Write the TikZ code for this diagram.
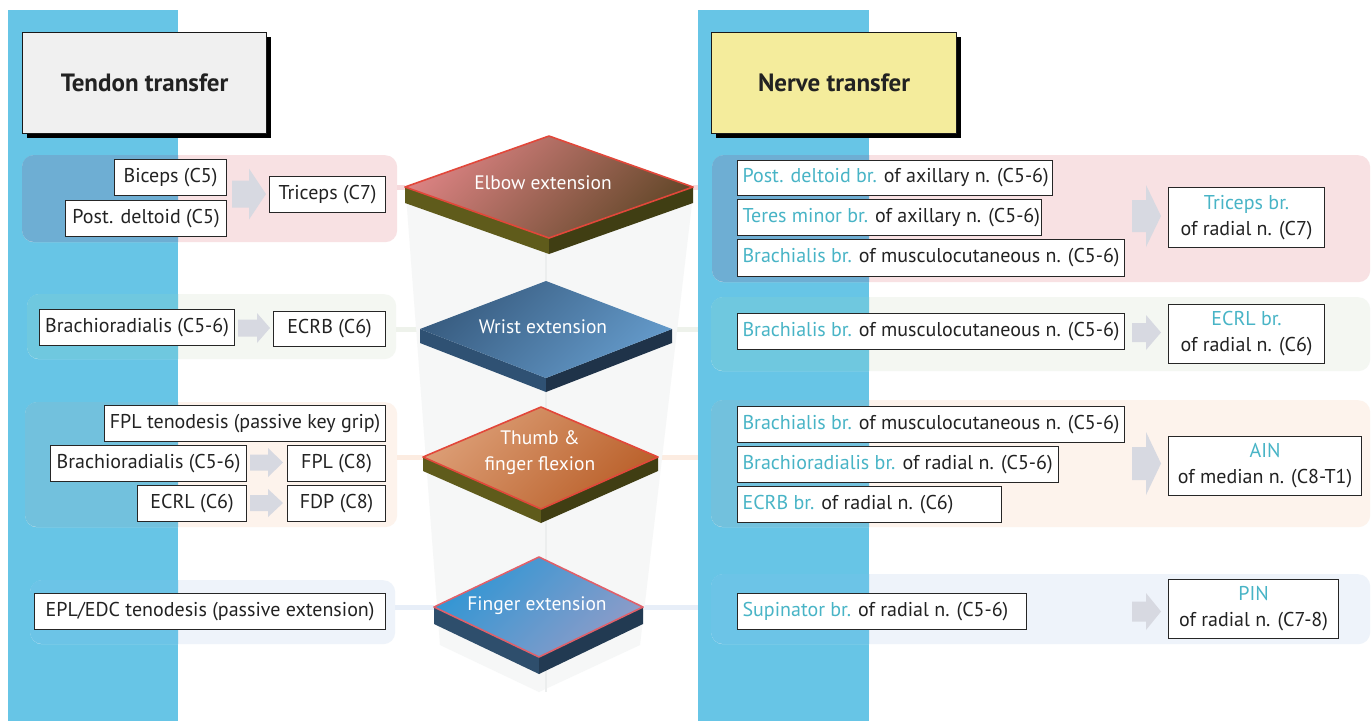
\documentclass[tikz,border=0pt]{standalone}
\usepackage{fontspec}
\setmainfont{PT Sans}
\usetikzlibrary{shadows,calc}
\definecolor{strip}{HTML}{67C5E6}
\definecolor{txt}{HTML}{222222}
\definecolor{tqc}{HTML}{48B4C6}
\definecolor{agray}{HTML}{D7D9E1}
\definecolor{pinkB}{HTML}{F8E1E3}
\definecolor{pinkO}{HTML}{6EAED3}
\definecolor{greenB}{HTML}{F4F7F2}
\definecolor{greenO}{HTML}{6FC8DF}
\definecolor{orB}{HTML}{FDF3EC}
\definecolor{orO}{HTML}{72C1DD}
\definecolor{blB}{HTML}{EEF3FA}
\definecolor{blO}{HTML}{6CC4E7}
\definecolor{pinkL}{HTML}{F6D9DC}
\definecolor{greenL}{HTML}{EEF2EB}
\definecolor{orL}{HTML}{FCECE1}
\definecolor{blL}{HTML}{E7EEF8}
\definecolor{frc}{HTML}{F6F7F7}
\definecolor{frl}{HTML}{ECEEEE}
\definecolor{hdrG}{HTML}{F0F0F0}
\definecolor{hdrY}{HTML}{F4EC9C}
\definecolor{oliveL}{HTML}{5F5B1B}
\definecolor{oliveR}{HTML}{403E13}
\definecolor{navyL}{HTML}{2F5173}
\definecolor{navyR}{HTML}{1F3349}
\definecolor{navyTL}{HTML}{2E4E6C}
\definecolor{navyTR}{HTML}{223A52}
\definecolor{redE}{HTML}{E2473A}
\definecolor{pinkE}{HTML}{E0606A}
\newcommand\tq[1]{\textcolor{tqc}{#1}}
\newcommand\band[9]{%
  \node[bandbox, fill=#6, minimum width={#4-#2}, minimum height={#5-#3}] (#1) at (#2,#3) {};
  \begin{scope}\clip (#8,0) rectangle (#9,721);
  \fill[#7, rounded corners=12pt] (#2,#3) rectangle (#4,#5);\end{scope}}
\newcommand\bx[6]{\node[tbox, minimum width={#4-#2}, minimum height={#5-#3}] (#1) at (#2,#3) {#6};}
\newcommand\bxl[6]{\node[tbox, inner xsep=5pt, minimum height={#5-#3}] (#1) at (#2,#3) {\makebox[\dimexpr #4pt-#2pt-10pt\relax][l]{#6}};}
\newcommand\blk[6]{\fill[agray] (#1,{#3-#4}) -- (#6,{#3-#4}) -- (#6,{#3-#5}) -- (#2,#3) -- (#6,{#3+#5}) -- (#6,{#3+#4}) -- (#1,{#3+#4}) -- cycle;}
\tikzset{
  bandbox/.style={rounded corners=12pt, inner sep=0pt, anchor=north west},
  tbox/.style={draw=black!85, line width=1.1pt, fill=white, inner sep=0pt, anchor=north west,
    font=\fontsize{20}{26}\selectfont, text=txt, align=center},
  hdr/.style={draw=black!90, line width=1.2pt, inner sep=0pt, anchor=north west,
    font=\fontsize{25}{30}\selectfont\bfseries, text=txt,
    drop shadow={shadow xshift=4pt, shadow yshift=-4pt, opacity=1, fill=black}},
  conn/.style={line width=5pt},
  dtext/.style={text=white, font=\fontsize{19.5}{26}\selectfont, align=center, inner sep=0pt},
}
\begin{document}
\begin{tikzpicture}[x=1pt,y=-1pt]
\useasboundingbox (0,0) rectangle (1372,721);
\fill[white] (0,0) rectangle (1372,721);

% coordinates of diamond corners
\coordinate (e-t) at (549,136); \coordinate (e-l) at (405,187);
\coordinate (e-r) at (693,187); \coordinate (e-b) at (549,238);
\coordinate (w-t) at (546,281); \coordinate (w-l) at (420,329);
\coordinate (w-r) at (672,329); \coordinate (w-b) at (546,378);
\coordinate (f-t) at (541,407); \coordinate (f-l) at (423,457);
\coordinate (f-r) at (658,457); \coordinate (f-b) at (541,509);
\coordinate (x-t) at (539,557); \coordinate (x-l) at (434,607);
\coordinate (x-r) at (643,607); \coordinate (x-b) at (539,657);
\coordinate (rband) at (711,0);

% right-hand connectors (run under the right strip)
\draw[conn, pinkL] (e-r) -- (e-r -| rband);
\draw[conn, greenL] (w-r) -- (w-r -| rband);
\draw[conn, orL] (f-r) -- (f-r -| rband);
\draw[conn, blL] (x-r) -- (x-r -| rband);

% blue strips
\fill[strip] (8,10) rectangle (178,721);
\fill[strip] (698,10) rectangle (869,721);

% headers
\node[hdr, fill=hdrG, minimum width=244, minimum height=101] (tt) at (22,32) {Tendon transfer};
\node[hdr, fill=hdrY, minimum width=245, minimum height=101] (nt) at (711,32) {Nerve transfer};

% bands
\band{b1L}{22}{155}{397}{242}{pinkB}{pinkO}{8}{178}
\band{b2L}{27}{294}{396}{359}{greenB}{greenO}{8}{178}
\band{b3L}{25}{402}{397}{527}{orB}{orO}{8}{178}
\band{b4L}{30}{580}{395}{644}{blB}{blO}{8}{178}
\band{b1R}{712}{155}{1370}{282}{pinkB}{pinkO}{698}{869}
\band{b2R}{711}{297}{1370}{371}{greenB}{greenO}{698}{869}
\band{b3R}{711}{400}{1370}{527}{orB}{orO}{698}{869}
\band{b4R}{711}{574}{1370}{644}{blB}{blO}{698}{869}

% left-hand connectors band -- diamond
\draw[conn, pinkL] (e-l -| b1L.east) -- (e-l);
\draw[conn, greenL] (w-l -| b2L.east) -- (w-l);
\draw[conn, orL] (f-l -| b3L.east) -- (f-l);
\draw[conn, blL] (x-l -| b4L.east) -- (x-l);

% faint frustum behind the stack
\fill[frc] (406,195) -- (693,195) -- (640,645) -- (539,692) -- (440,645) -- cycle;
\draw[frl, line width=1.5pt] (546,240) -- (546,692);

% Elbow extension
\fill[oliveL] (e-l) -- (e-b) -- ($(e-b)+(0,16)$) -- ($(e-l)+(0,16)$) -- cycle;
\fill[oliveR] (e-b) -- (e-r) -- ($(e-r)+(0,16)$) -- ($(e-b)+(0,16)$) -- cycle;
\shade[top color={rgb,255:red,218;green,130;blue,130}, bottom color={rgb,255:red,100;green,72;blue,42}, shading angle=45]
  (e-t) -- (e-r) -- (e-b) -- (e-l) -- cycle;
\draw[redE, line width=1.6pt, line join=round] (e-t) -- (e-r) -- (e-b) -- (e-l) -- cycle;
\node[dtext] (e) at (543,183) {Elbow extension};

% Wrist extension
\fill[navyL] (w-l) -- (w-b) -- ($(w-b)+(0,14)$) -- ($(w-l)+(0,14)$) -- cycle;
\fill[navyR] (w-b) -- (w-r) -- ($(w-r)+(0,14)$) -- ($(w-b)+(0,14)$) -- cycle;
\shade[top color={rgb,255:red,56;green,92;blue,128}, bottom color={rgb,255:red,100;green,154;blue,202}, shading angle=45]
  (w-t) -- (w-r) -- (w-b) -- (w-l) -- cycle;
\node[dtext] (w) at (543,327) {Wrist extension};

% Thumb & finger flexion
\fill[oliveL] (f-l) -- (f-b) -- ($(f-b)+(0,14)$) -- ($(f-l)+(0,14)$) -- cycle;
\fill[oliveR] (f-b) -- (f-r) -- ($(f-r)+(0,14)$) -- ($(f-b)+(0,14)$) -- cycle;
\shade[top color={rgb,255:red,220;green,158;blue,118}, bottom color={rgb,255:red,186;green,96;blue,42}, shading angle=45]
  (f-t) -- (f-r) -- (f-b) -- (f-l) -- cycle;
\draw[redE, line width=1.6pt, line join=round] (f-t) -- (f-r) -- (f-b) -- (f-l) -- cycle;
\node[dtext] (f) at (540,453) {Thumb \&\\finger flexion};

% Finger extension
\fill[navyTL] (x-l) -- (x-b) -- ($(x-b)+(0,17)$) -- ($(x-l)+(0,17)$) -- cycle;
\fill[navyTR] (x-b) -- (x-r) -- ($(x-r)+(0,17)$) -- ($(x-b)+(0,17)$) -- cycle;
\shade[top color={rgb,255:red,48;green,150;blue,212}, bottom color={rgb,255:red,142;green,156;blue,200}, shading angle=45]
  (x-t) -- (x-r) -- (x-b) -- (x-l) -- cycle;
\draw[pinkE, line width=1.6pt, line join=round] (x-t) -- (x-r) -- (x-b) -- (x-l) -- cycle;
\node[dtext] (x) at (537,606) {Finger extension};

% tendon transfer boxes
\bx{biceps}{114}{159}{226}{195}{Biceps (C5)}
\bx{pdelt}{65}{200}{226}{236}{Post. deltoid (C5)}
\bx{tric}{269}{176}{385}{212}{Triceps (C7)}
\blk{232}{266}{194}{13.5}{25.5}{249}

\bx{brach1}{39}{309}{234}{345}{Brachioradialis (C5-6)}
\bx{ecrb}{273}{311}{385}{346}{ECRB (C6)}
\blk{238}{270}{328}{8.5}{15}{257}

\bx{fplt}{104}{405}{385}{441}{FPL tenodesis (passive key grip)}
\bx{brach2}{50}{445}{246}{481}{Brachioradialis (C5-6)}
\bx{fpl}{287}{445}{385}{481}{FPL (C8)}
\bx{ecrl}{137}{485}{246}{521}{ECRL (C6)}
\bx{fdp}{287}{485}{385}{521}{FDP (C8)}
\blk{250}{283}{462.5}{8}{14.5}{268}
\blk{250}{283}{503}{8}{14}{268}

\bx{epl}{34}{593}{385}{629}{EPL/EDC tenodesis (passive extension)}

% nerve transfer boxes
\bxl{n1a}{737}{160}{1052}{195}{\tq{Post. deltoid br.} of axillary n. (C5-6)}
\bxl{n1b}{737}{199}{1041}{235}{\tq{Teres minor br.} of axillary n. (C5-6)}
\bxl{n1c}{737}{239}{1124}{276}{\tq{Brachialis br.} of musculocutaneous n. (C5-6)}
\blk{1132}{1161}{216}{16}{31}{1146}
\bx{n1t}{1168}{187}{1324}{247}{\tq{Triceps br.}\\of radial n. (C7)}

\bxl{n2a}{737}{313}{1124}{349}{\tq{Brachialis br.} of musculocutaneous n. (C5-6)}
\blk{1132}{1161}{332.5}{9.5}{17.5}{1146}
\bx{n2t}{1168}{304}{1324}{363}{\tq{ECRL br.}\\of radial n. (C6)}

\bxl{n3a}{737}{406}{1124}{442}{\tq{Brachialis br.} of musculocutaneous n. (C5-6)}
\bxl{n3b}{737}{446}{1058}{482}{\tq{Brachioradialis br.} of radial n. (C5-6)}
\bxl{n3c}{737}{486}{1001}{522}{\tq{ECRB br.} of radial n. (C6)}
\blk{1132}{1161}{463.5}{16.5}{31.5}{1146}
\bx{n3t}{1168}{436}{1361}{495}{\tq{AIN}\\of median n. (C8-T1)}

\bxl{n4a}{737}{593}{1026}{629}{\tq{Supinator br.} of radial n. (C5-6)}
\blk{1132}{1161}{611.5}{10}{18.5}{1146}
\bx{n4t}{1168}{579}{1338}{638}{\tq{PIN}\\of radial n. (C7-8)}
\end{tikzpicture}
\end{document}
